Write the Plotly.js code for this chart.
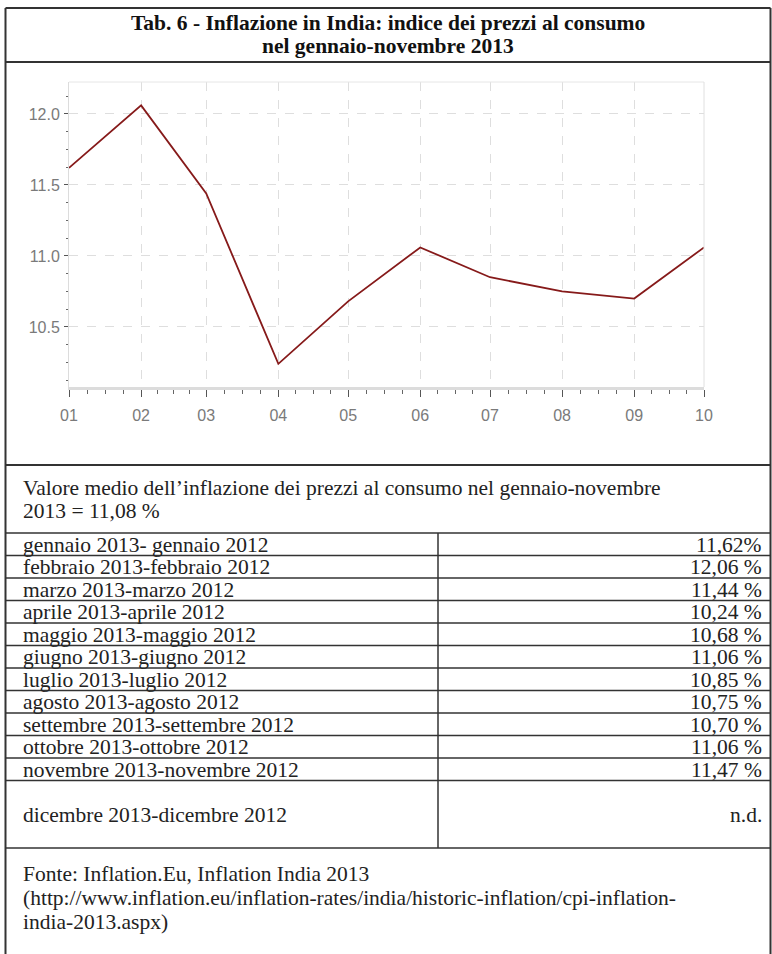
<!DOCTYPE html>
<html><head><meta charset="utf-8">
<script src="https://cdn.plot.ly/plotly-3.0.1.min.js"></script>
<style>html,body{margin:0;padding:0;background:#fff}#chart{width:772px;height:954px}</style>
</head><body><div id="chart"></div>
<script>
// ---- data ----
const months = ["2013-01-01","2013-02-01","2013-03-01","2013-04-01","2013-05-01","2013-06-01","2013-07-01","2013-08-01","2013-09-01","2013-10-01"];
const cpi = [11.62, 12.06, 11.44, 10.24, 10.68, 11.06, 10.85, 10.75, 10.70, 11.06];
const yTicks = [10.5, 11.0, 11.5, 12.0];
const titleLines = ["Tab. 6 - Inflazione in India: indice dei prezzi al consumo", "nel gennaio-novembre 2013"];
const noteLines = ["Valore medio dell\u2019inflazione dei prezzi al consumo nel gennaio-novembre", "2013 = 11,08 %"];
const rowLabels = ["gennaio 2013- gennaio 2012","febbraio 2013-febbraio 2012","marzo 2013-marzo 2012","aprile 2013-aprile 2012","maggio 2013-maggio 2012","giugno 2013-giugno 2012","luglio 2013-luglio 2012","agosto 2013-agosto 2012","settembre 2013-settembre 2012","ottobre 2013-ottobre 2012","novembre 2013-novembre 2012"];
const rowValues = ["11,62%","12,06 %","11,44 %","10,24 %","10,68 %","11,06 %","10,85 %","10,75 %","10,70 %","11,06 %","11,47 %"];
const lastLabel = "dicembre 2013-dicembre 2012";
const lastValue = "n.d.";
const sourceLines = ["Fonte: Inflation.Eu, Inflation India 2013", "(http://www.inflation.eu/inflation-rates/india/historic-inflation/cpi-inflation-", "india-2013.aspx)"];

// ---- layout geometry (pixels) ----
const W = 772, H = 954;
const px = v => v / W, py = v => 1 - v / H;
const L = 5.5, R = 770.5, TOP = 8, TITLE_B = 62, CHART_B = 465;
const NOTE_B = 533, ROW_H = 22.5, COL = 438;
const rowsEnd = NOTE_B + ROW_H * rowLabels.length;
const DIC_B = 848;
const serif = "Liberation Serif, Times New Roman, serif";
const narrow = "Liberation Sans Narrow, Arial Narrow, Liberation Sans, sans-serif";
const BODY = 21.5;

const ann = [];
const text = (t, x, y, xa, opts = {}) => ann.push(Object.assign({
  text: t, x: px(x), y: py(y), xref: "paper", yref: "paper", xanchor: xa, yanchor: "middle",
  showarrow: false, borderpad: 0, font: {family: serif, size: BODY, color: "#222"}
}, opts));

titleLines.forEach((t, i) => text("<b>" + t + "</b>", W / 2 + 2, 23 + i * 23, "center", {font: {family: serif, size: 21.5, color: "#111"}}));
noteLines.forEach((t, i) => text(t, 22, 488 + i * 23, "left"));
rowLabels.forEach((t, i) => {
  const yc = NOTE_B + ROW_H * i + ROW_H / 2 + 0.5;
  text(t, 22, yc, "left");
  text(rowValues[i], 763, yc, "right");
});
text(lastLabel, 22, (rowsEnd + DIC_B) / 2 + 1, "left");
text(lastValue, 763, (rowsEnd + DIC_B) / 2 + 1, "right");
sourceLines.forEach((t, i) => text(t, 22, DIC_B + 26 + i * 24, "left"));

const shapes = [];
const line = (x0, y0, x1, y1, w = 1.5, c = "#333") => shapes.push({type: "line", xref: "paper", yref: "paper",
  x0: px(x0), y0: py(y0), x1: px(x1), y1: py(y1), line: {color: c, width: w}});
line(L, TOP, R, TOP, 2);
line(L, TOP, L, H, 2);
line(R, TOP, R, H, 2);
line(L, TITLE_B, R, TITLE_B, 2);
line(L, CHART_B, R, CHART_B, 2);
line(L, NOTE_B, R, NOTE_B, 1.5);
for (let i = 1; i <= rowLabels.length; i++) line(L, NOTE_B + ROW_H * i, R, NOTE_B + ROW_H * i, 1.5);
line(L, DIC_B, R, DIC_B, 1.5);
line(COL, NOTE_B, COL, DIC_B, 1.5);
// faint plot frame top/right
shapes.push({type: "line", xref: "x domain", yref: "y domain", x0: 0, x1: 1, y0: 1, y1: 1, line: {color: "#e6e6e6", width: 1}});
shapes.push({type: "line", xref: "x domain", yref: "y domain", x0: 1, x1: 1, y0: 0, y1: 1, line: {color: "#e0e0e0", width: 1}});

// minor ticks at quarter months
const minorX = [];
for (let i = 0; i < months.length - 1; i++) {
  const a = Date.parse(months[i]), b = Date.parse(months[i + 1]);
  for (let k = 1; k < 4; k++) minorX.push(a + (b - a) * k / 4);
}

const trace = {x: months, y: cpi, type: "scatter", mode: "lines", line: {color: "#861a1a", width: 1.8}, hoverinfo: "x+y"};

const layout = {
  width: W, height: H, margin: {l: 0, r: 0, t: 0, b: 0}, paper_bgcolor: "#fff", plot_bgcolor: "#fff",
  showlegend: false,
  xaxis: {type: "date", domain: [px(69), px(704)], range: [months[0], months[months.length - 1]],
    tickmode: "array", tickvals: months, tickformat: "%m", ticks: "outside", ticklen: 7, tickwidth: 1, tickcolor: "#555",
    tickfont: {family: narrow, size: 16, color: "#7a7a7a"}, ticklabelstandoff: 5,
    showgrid: true, gridcolor: "#dedede", griddash: "dash", gridwidth: 1,
    showline: true, linecolor: "#dcdcdc", linewidth: 3, zeroline: false,
    minor: {tickmode: "array", tickvals: minorX, ticks: "outside", ticklen: 4, tickcolor: "#666", showgrid: false}},
  yaxis: {domain: [py(387), py(82)], range: [10.077, 12.225],
    tickmode: "array", tickvals: yTicks, tickformat: ".1f", ticks: "outside", ticklen: 4, tickcolor: "#555",
    tickfont: {family: narrow, size: 16, color: "#7a7a7a"}, ticklabelstandoff: 1,
    showgrid: true, gridcolor: "#dedede", griddash: "dash", gridwidth: 1,
    showline: true, linecolor: "#dcdcdc", linewidth: 1, zeroline: false,
    minor: {dtick: 0.125, tick0: 0, ticks: "outside", ticklen: 2, tickcolor: "#666", showgrid: false}},
  annotations: ann, shapes: shapes
};
Plotly.newPlot("chart", [trace], layout, {displayModeBar: false, staticPlot: true});
</script></body></html>
